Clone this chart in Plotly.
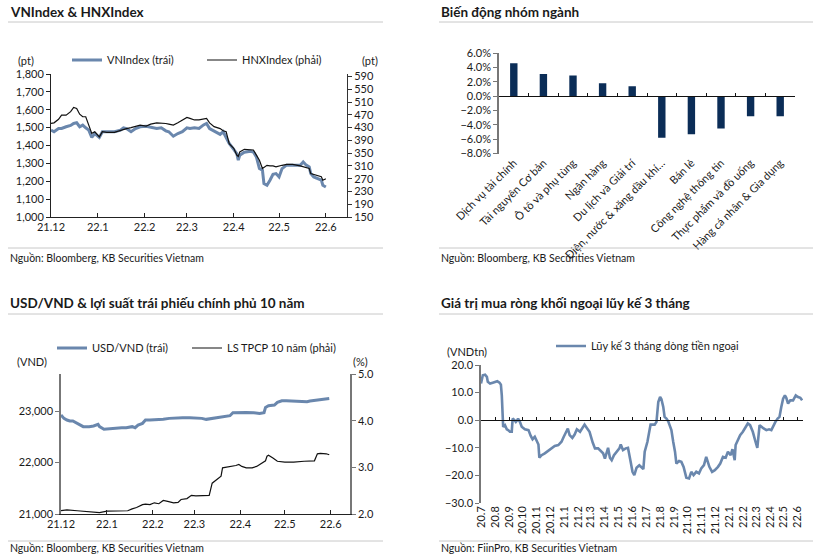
import plotly.graph_objects as go

# ---------------- data ----------------
# Panel 1: VNIndex & HNXIndex
idx_dates = ["2021-12-01", "2021-12-03", "2021-12-06", "2021-12-08", "2021-12-11", "2021-12-14",
             "2021-12-16", "2021-12-18", "2021-12-20", "2021-12-22", "2021-12-24", "2021-12-26",
             "2021-12-28", "2021-12-30", "2022-01-02", "2022-01-04", "2022-01-07", "2022-01-12",
             "2022-01-16", "2022-01-18", "2022-01-20", "2022-01-23", "2022-01-26", "2022-01-29",
             "2022-02-02", "2022-02-05", "2022-02-09", "2022-02-12", "2022-02-15", "2022-02-17",
             "2022-02-20", "2022-02-23", "2022-02-26", "2022-03-01", "2022-03-03", "2022-03-06",
             "2022-03-09", "2022-03-12", "2022-03-14", "2022-03-16", "2022-03-19", "2022-03-23",
             "2022-03-25", "2022-03-27", "2022-03-29", "2022-04-01", "2022-04-03", "2022-04-04",
             "2022-04-05", "2022-04-08", "2022-04-12", "2022-04-14", "2022-04-16", "2022-04-18",
             "2022-04-20", "2022-04-21", "2022-04-23", "2022-04-25", "2022-04-27", "2022-04-29",
             "2022-05-01", "2022-05-03", "2022-05-06", "2022-05-10", "2022-05-15", "2022-05-17",
             "2022-05-19", "2022-05-21", "2022-05-22", "2022-05-24", "2022-05-27", "2022-05-29",
             "2022-05-30", "2022-06-01"]
vnindex = [1486, 1477, 1495, 1495, 1505, 1512, 1523, 1527, 1505, 1514, 1499, 1486,
           1445, 1467, 1445, 1477, 1477, 1477, 1486, 1499, 1495, 1477, 1495, 1505,
           1508, 1503, 1495, 1499, 1482, 1477, 1452, 1467, 1477, 1499, 1495, 1499,
           1495, 1515, 1523, 1495, 1480, 1462, 1477, 1445, 1411, 1378, 1355, 1318,
           1346, 1362, 1368, 1364, 1336, 1271, 1262, 1187, 1178, 1206, 1239, 1243,
           1224, 1271, 1290, 1290, 1290, 1308, 1290, 1280, 1243, 1224, 1215, 1206,
           1178, 1168]
hnxindex = [443, 445, 456, 469, 469, 480, 493, 490, 472, 464, 464, 438,
            412, 417, 401, 417, 415, 415, 422, 425, 427, 430, 435, 438,
            435, 441, 445, 445, 443, 441, 438, 445, 454, 462, 459, 454,
            454, 457, 459, 445, 433, 427, 420, 417, 380, 365, 344, 340,
            354, 362, 362, 360, 344, 328, 302, 305, 312, 310, 310, 307,
            310, 312, 315, 315, 310, 307, 305, 302, 286, 283, 279, 276,
            265, 270]
idx_tickvals = ["2021-12-01", "2022-01-01", "2022-02-01", "2022-03-01", "2022-04-01", "2022-05-01", "2022-06-01"]
idx_ticktext = ["21.12", "22.1", "22.2", "22.3", "22.4", "22.5", "22.6"]

# Panel 2: sector performance
sector_names = ["Dịch vụ tài chính", "Tài nguyên Cơ bản", "Ô tô và phụ tùng", "Ngân hàng",
                "Du lịch và Giải trí", "Điện, nước & xăng dầu khí…", "Bán lẻ",
                "Công nghệ thông tin", "Thực phẩm và đồ uống", "Hàng cá nhân & Gia dụng"]
sector_change = [0.046, 0.031, 0.029, 0.018, 0.014, -0.058, -0.053, -0.045, -0.028, -0.028]

# Panel 3: USD/VND and 10Y government bond yield
usd_dates = ["2021-12-01", "2021-12-03", "2021-12-05", "2021-12-07", "2021-12-09", "2021-12-12",
             "2021-12-14", "2021-12-16", "2021-12-20", "2021-12-23", "2021-12-26", "2021-12-27",
             "2021-12-30", "2022-01-01", "2022-01-04", "2022-01-08", "2022-01-11", "2022-01-14",
             "2022-01-18", "2022-01-20", "2022-01-22", "2022-01-25", "2022-01-27", "2022-01-30",
             "2022-02-04", "2022-02-08", "2022-02-12", "2022-02-17", "2022-02-21", "2022-02-26",
             "2022-03-03", "2022-03-06", "2022-03-09", "2022-03-14", "2022-03-18", "2022-03-23",
             "2022-03-25", "2022-03-27", "2022-04-01", "2022-04-05", "2022-04-10", "2022-04-14",
             "2022-04-17", "2022-04-18", "2022-04-20", "2022-04-24", "2022-04-26", "2022-04-29",
             "2022-05-02", "2022-05-07", "2022-05-12", "2022-05-16", "2022-05-18", "2022-05-22",
             "2022-05-25", "2022-05-28", "2022-05-31"]
usdvnd = [22923, 22858, 22826, 22806, 22806, 22761, 22729, 22697, 22697, 22710, 22742, 22697,
          22645, 22652, 22665, 22665, 22677, 22677, 22697, 22677, 22729, 22761, 22826, 22826,
          22826, 22839, 22858, 22871, 22871, 22871, 22871, 22858, 22839, 22858, 22871, 22890,
          22910, 22968, 22974, 22974, 22968, 22955, 22968, 23071, 23103, 23116, 23168, 23200,
          23200, 23194, 23194, 23181, 23194, 23213, 23226, 23232, 23245]
yield_dates = ["2021-12-01", "2021-12-05", "2021-12-12", "2021-12-18", "2021-12-25", "2021-12-27",
               "2022-01-01", "2022-01-08", "2022-01-15", "2022-01-18", "2022-01-21", "2022-01-25",
               "2022-01-27", "2022-01-30", "2022-02-02", "2022-02-05", "2022-02-08", "2022-02-11",
               "2022-02-15", "2022-02-18", "2022-02-20", "2022-02-24", "2022-02-27", "2022-03-02",
               "2022-03-07", "2022-03-11", "2022-03-13", "2022-03-15", "2022-03-17", "2022-03-19",
               "2022-03-20", "2022-03-22", "2022-03-25", "2022-03-29", "2022-03-31", "2022-04-02",
               "2022-04-05", "2022-04-09", "2022-04-12", "2022-04-16", "2022-04-18", "2022-04-19",
               "2022-04-20", "2022-04-23", "2022-04-26", "2022-05-01", "2022-05-07", "2022-05-14",
               "2022-05-21", "2022-05-23", "2022-05-25", "2022-05-29", "2022-05-31"]
bond_yield = [2.07, 2.09, 2.07, 2.06, 2.04, 2.03, 2.06, 2.06, 2.07, 2.11, 2.14, 2.20,
              2.21, 2.20, 2.24, 2.22, 2.29, 2.27, 2.24, 2.25, 2.31, 2.33, 2.40, 2.39,
              2.40, 2.40, 2.66, 2.71, 2.74, 2.81, 2.99, 3.00, 3.01, 3.04, 3.06, 3.02,
              2.99, 2.99, 3.02, 3.11, 3.14, 3.24, 3.26, 3.20, 3.13, 3.11, 3.11, 3.13,
              3.14, 3.29, 3.30, 3.29, 3.27]

# Panel 4: foreign net buying, 3-month cumulative (VND tn)
flow_dates = ["2020-07-01", "2020-07-05", "2020-07-10", "2020-07-14", "2020-07-16", "2020-07-21",
              "2020-07-27", "2020-08-01", "2020-08-06", "2020-08-11", "2020-08-14", "2020-08-16",
              "2020-08-18", "2020-08-19", "2020-08-23", "2020-08-27", "2020-08-30", "2020-09-03",
              "2020-09-07", "2020-09-09", "2020-09-13", "2020-09-16", "2020-09-19", "2020-09-21",
              "2020-09-25", "2020-09-29", "2020-10-06", "2020-10-14", "2020-10-19", "2020-10-23",
              "2020-10-28", "2020-11-01", "2020-11-05", "2020-11-07", "2020-11-12", "2020-11-19",
              "2020-11-26", "2020-12-04", "2020-12-11", "2020-12-19", "2020-12-26", "2020-12-31",
              "2021-01-05", "2021-01-09", "2021-01-13", "2021-01-19", "2021-01-24", "2021-01-29",
              "2021-02-05", "2021-02-10", "2021-02-15", "2021-02-20", "2021-02-26", "2021-03-05",
              "2021-03-10", "2021-03-17", "2021-03-22", "2021-03-28", "2021-04-01", "2021-04-05",
              "2021-04-08", "2021-04-12", "2021-04-16", "2021-04-21", "2021-04-27", "2021-05-03",
              "2021-05-06", "2021-05-11", "2021-05-17", "2021-05-22", "2021-05-28", "2021-06-01",
              "2021-06-05", "2021-06-10", "2021-06-16", "2021-06-21", "2021-06-25", "2021-06-28",
              "2021-07-04", "2021-07-08", "2021-07-11", "2021-07-15", "2021-07-20", "2021-07-24",
              "2021-07-28", "2021-08-01", "2021-08-04", "2021-08-08", "2021-08-11", "2021-08-15",
              "2021-08-19", "2021-08-22", "2021-08-26", "2021-08-30", "2021-09-03", "2021-09-06",
              "2021-09-12", "2021-09-17", "2021-09-22", "2021-09-28", "2021-10-04", "2021-10-09",
              "2021-10-14", "2021-10-20", "2021-10-26", "2021-10-31", "2021-11-06", "2021-11-11",
              "2021-11-15", "2021-11-18", "2021-11-24", "2021-11-30", "2021-12-07", "2021-12-12",
              "2021-12-18", "2021-12-24", "2021-12-29", "2022-01-04", "2022-01-08", "2022-01-13",
              "2022-01-15", "2022-01-20", "2022-01-25", "2022-01-31", "2022-02-06", "2022-02-11",
              "2022-02-16", "2022-02-22", "2022-02-28", "2022-03-04", "2022-03-09", "2022-03-13",
              "2022-03-18", "2022-03-24", "2022-03-30", "2022-04-04", "2022-04-09", "2022-04-13",
              "2022-04-18", "2022-04-22", "2022-04-26", "2022-04-30", "2022-05-04", "2022-05-07",
              "2022-05-11", "2022-05-16", "2022-05-22", "2022-05-28", "2022-06-02", "2022-06-07",
              "2022-06-11"]
foreign_flow = [13.3, 16.3, 16.5, 15.7, 13.9, 13.3, 13.6, 13.9, 14.1, 13.6, 12.9, 9.0,
                0.6, -2.4, -1.8, -3.3, -3.6, -4.2, -4.2, 0.6, 0.0, -0.6, 0.0, 0.6,
                -0.6, -2.4, -3.3, -3.6, -5.7, -6.9, -6.0, -7.2, -8.8, -13.6, -12.7, -12.0,
                -11.2, -10.2, -9.3, -9.0, -7.8, -6.0, -4.2, -3.0, -5.4, -6.4, -5.2, -3.3,
                -4.2, -2.8, -1.6, -2.8, -4.2, -8.1, -10.2, -10.2, -11.2, -12.0, -13.9, -11.4,
                -10.0, -13.6, -14.5, -12.7, -11.4, -10.2, -8.8, -10.8, -10.2, -10.0, -15.1, -18.7,
                -19.9, -17.2, -16.3, -16.9, -17.7, -11.4, -7.8, -4.2, -1.6, -1.6, -1.6, -0.6,
                6.6, 8.4, 7.6, 4.8, 1.2, 0.6, -0.4, -1.8, -3.6, -7.8, -11.4, -15.7,
                -14.8, -15.1, -16.9, -20.8, -21.1, -18.7, -19.9, -18.7, -19.3, -17.5, -16.3, -13.3,
                -15.1, -16.9, -18.7, -18.1, -16.9, -15.7, -13.3, -13.6, -11.4, -12.7, -10.5, -14.5,
                -9.0, -7.2, -5.4, -4.2, -2.8, -1.2, -1.8, -4.2, -7.8, -10.0, -1.8, -2.4,
                -3.0, -3.6, -3.3, -3.6, -1.8, -0.6, 0.6, 1.2, 4.8, 7.8, 9.0, 8.1,
                6.0, 7.2, 7.2, 9.0, 8.4, 8.1, 7.2]
flow_tickvals = ["2020-07-01", "2020-08-01", "2020-09-01", "2020-10-01", "2020-11-01", "2020-12-01",
                 "2021-01-01", "2021-02-01", "2021-03-01", "2021-04-01", "2021-05-01", "2021-06-01",
                 "2021-07-01", "2021-08-01", "2021-09-01", "2021-10-01", "2021-11-01", "2021-12-01",
                 "2022-01-01", "2022-02-01", "2022-03-01", "2022-04-01", "2022-05-01", "2022-06-01"]
flow_ticktext = ["20.7", "20.8", "20.9", "20.10", "20.11", "20.12", "21.1", "21.2", "21.3", "21.4",
                 "21.5", "21.6", "21.7", "21.8", "21.9", "21.10", "21.11", "21.12", "22.1", "22.2",
                 "22.3", "22.4", "22.5", "22.6"]

# ---------------- style / layout helpers ----------------
W, H = 823, 557
FONT = "Lato"
TXT = "#1a1a1a"
BLUE = "#6a87ad"
NAVY = "#0b2d57"
GRAY_AX = "#777777"


def fx(p):
    return p / W


def fy(p):
    return 1 - p / H


def zero_pos(dom, rng):
    return dom[0] + (0 - rng[0]) / (rng[1] - rng[0]) * (dom[1] - dom[0])


tickfont = dict(family=FONT, size=11, color=TXT)

fig = go.Figure()

# Panel 1
fig.add_trace(go.Scatter(x=idx_dates, y=vnindex, name="VNIndex (trái)", mode="lines",
                         line=dict(color=BLUE, width=3), xaxis="x", yaxis="y", legend="legend"))
fig.add_trace(go.Scatter(x=idx_dates, y=hnxindex, name="HNXIndex (phải)", mode="lines",
                         line=dict(color="#111111", width=1.2), xaxis="x", yaxis="y2", legend="legend4"))

# Panel 2
fig.add_trace(go.Bar(x=sector_names, y=sector_change, marker=dict(color=NAVY, line=dict(width=0)),
                     width=0.25, xaxis="x2", yaxis="y3", showlegend=False, hoverinfo="x+y"))
fig.add_trace(go.Scatter(x=sector_names, y=sector_change, xaxis="x5", yaxis="y3", mode="lines",
                         line=dict(width=0), opacity=0, showlegend=False, hoverinfo="skip"))

# Panel 3
fig.add_trace(go.Scatter(x=usd_dates, y=usdvnd, name="USD/VND (trái)", mode="lines",
                         line=dict(color=BLUE, width=3), xaxis="x3", yaxis="y4", legend="legend2"))
fig.add_trace(go.Scatter(x=yield_dates, y=bond_yield, name="LS TPCP 10 năm (phải)", mode="lines",
                         line=dict(color="#111111", width=1.2), xaxis="x3", yaxis="y5", legend="legend5"))

# Panel 4
fig.add_trace(go.Scatter(x=flow_dates, y=foreign_flow, name="Lũy kế 3 tháng dòng tiền ngoại", mode="lines",
                         line=dict(color=BLUE, width=2.6), xaxis="x4", yaxis="y6", legend="legend3"))
fig.add_trace(go.Scatter(x=flow_dates, y=foreign_flow, xaxis="x6", yaxis="y6", mode="lines",
                         line=dict(width=0), opacity=0, showlegend=False, hoverinfo="skip"))

base_ax = dict(showgrid=False, zeroline=False, tickfont=tickfont, automargin=False)

dom2y = [fy(153.5), fy(53.3)]
rng2y = [-0.08, 0.06]
dom4y = [fy(503), fy(365)]
rng4y = [-30, 20]

leg_font = dict(family=FONT, size=11, color=TXT)


def legend_at(x, y):
    return dict(orientation="h", x=fx(x), y=fy(y), xanchor="left", yanchor="middle",
                font=leg_font, bgcolor="rgba(0,0,0,0)", borderwidth=0, itemwidth=30)


fig.update_layout(
    template="none",
    width=W, height=H, margin=dict(l=0, r=0, t=0, b=0, pad=0, autoexpand=False),
    paper_bgcolor="white", plot_bgcolor="white",
    font=dict(family=FONT, size=11, color=TXT),
    xaxis=dict(base_ax, domain=[fx(51), fx(347)], anchor="y", type="date",
               range=["2021-12-01", "2022-06-15"], tickmode="array",
               tickvals=idx_tickvals, ticktext=idx_ticktext, ticks="inside", ticklen=4,
               tickcolor="#222222", showline=True, linecolor="#222222"),
    yaxis=dict(base_ax, domain=[fy(217), fy(74)], anchor="x", range=[1000, 1800], dtick=100,
               tickformat=",d", ticks="outside", ticklen=4, tickcolor="#222222",
               showline=True, linecolor="#222222"),
    yaxis2=dict(base_ax, overlaying="y", side="right", anchor="x", range=[150, 598], tick0=150,
                dtick=40, ticks="outside", ticklen=4, tickcolor="#333333",
                showline=True, linecolor="#333333"),
    xaxis2=dict(base_ax, domain=[fx(499), fx(795)], anchor="y3", type="category",
                range=[-0.5, 9.5], tickangle=-45, ticks="", showline=False,
                tickfont=dict(family=FONT, size=11, color=TXT)),
    yaxis3=dict(base_ax, domain=dom2y, anchor="x2", range=rng2y, dtick=0.02, tickformat=".1%",
                ticks="outside", ticklen=4, tickcolor=GRAY_AX, showline=True, linecolor=GRAY_AX,
                linewidth=1.5),
    xaxis5=dict(base_ax, overlaying="x2", anchor="free", position=zero_pos(dom2y, rng2y),
                type="category", range=[-0.5, 9.5], tickson="boundaries", ticks="inside", ticklen=3,
                tickcolor="#111111", showline=True, linecolor="#111111", showticklabels=False),
    xaxis3=dict(base_ax, domain=[fx(61), fx(350)], anchor="y4", type="date",
                range=["2021-12-01", "2022-06-14"], tickmode="array",
                tickvals=idx_tickvals, ticktext=idx_ticktext, ticks="inside", ticklen=4,
                tickcolor="#222222", showline=True, linecolor="#222222"),
    yaxis4=dict(base_ax, domain=[fy(514), fy(374)], anchor="x3", range=[21000, 23720],
                tickvals=[21000, 22000, 23000], tickformat=",d", ticks="outside", ticklen=4,
                tickcolor=GRAY_AX, showline=True, linecolor=GRAY_AX, linewidth=1.5),
    yaxis5=dict(base_ax, overlaying="y4", side="right", anchor="x3", range=[2.0, 5.0], dtick=1,
                tickformat=".1f", ticks="outside", ticklen=4, tickcolor=GRAY_AX,
                showline=True, linecolor=GRAY_AX, linewidth=1.5),
    xaxis4=dict(base_ax, domain=[fx(481), fx(803)], anchor="y6", type="date",
                range=["2020-07-01", "2022-06-13"], tickmode="array", tickvals=flow_tickvals,
                ticktext=flow_ticktext, tickangle=-90, ticks="", showline=False),
    yaxis6=dict(base_ax, domain=dom4y, anchor="x4", range=rng4y, dtick=10, tickformat=".1f",
                ticks="outside", ticklen=4, tickcolor=GRAY_AX, showline=True, linecolor=GRAY_AX,
                linewidth=1.5),
    xaxis6=dict(base_ax, overlaying="x4", anchor="free", position=zero_pos(dom4y, rng4y),
                type="date", range=["2020-07-01", "2022-06-13"], tickmode="array",
                tickvals=flow_tickvals, ticks="inside", ticklen=3, tickcolor="#111111",
                showline=True, linecolor="#111111", showticklabels=False),
    legend=legend_at(67, 60),
    legend4=legend_at(202, 60),
    legend2=legend_at(52, 348),
    legend5=legend_at(187, 348),
    legend3=legend_at(551, 346),
)

annotations = []


def add_text(text, x, y, size=11, xanchor="left", bold=False):
    annotations.append(dict(text=("<b>%s</b>" % text) if bold else text, x=fx(x), y=fy(y),
                            xref="paper", yref="paper", xanchor=xanchor, yanchor="middle",
                            showarrow=False, font=dict(family=FONT, size=size, color=TXT)))


# titles
add_text("VNIndex & HNXIndex", 8, 12, size=13.5, bold=True)
add_text("Biến động nhóm ngành", 439, 12, size=13.5, bold=True)
add_text("USD/VND & lợi suất trái phiếu chính phủ 10 năm", 8, 303, size=13.5, bold=True)
add_text("Giá trị mua ròng khối ngoại lũy kế 3 tháng", 439, 303, size=13.5, bold=True)
# units
add_text("(pt)", 26, 61, xanchor="center")
add_text("(pt)", 370, 61, xanchor="center")
add_text("(VND)", 32, 361, xanchor="center")
add_text("(%)", 360, 361, xanchor="center")
add_text("(VNDtn)", 467, 351, xanchor="center")
# sources
add_text("Nguồn: Bloomberg, KB Securities Vietnam", 8, 258, size=10.5)
add_text("Nguồn: Bloomberg, KB Securities Vietnam", 439, 258, size=10.5)
add_text("Nguồn: Bloomberg, KB Securities Vietnam", 8, 548, size=10.5)
add_text("Nguồn: FiinPro, KB Securities Vietnam", 439, 548, size=10.5)

shapes = []
for (x0, x1, y) in [(8, 383, 22), (439, 813, 22), (8, 383, 314), (439, 813, 314),
                    (8, 383, 248), (439, 813, 248), (8, 383, 541), (439, 813, 541)]:
    shapes.append(dict(type="line", xref="paper", yref="paper", x0=fx(x0), x1=fx(x1),
                       y0=fy(y), y1=fy(y), line=dict(color="#c8c8c8", width=1)))

fig.update_layout(annotations=annotations, shapes=shapes)

fig.write_html("out.html", config={"displayModeBar": False},
               post_script="document.body.style.margin='0px';")
